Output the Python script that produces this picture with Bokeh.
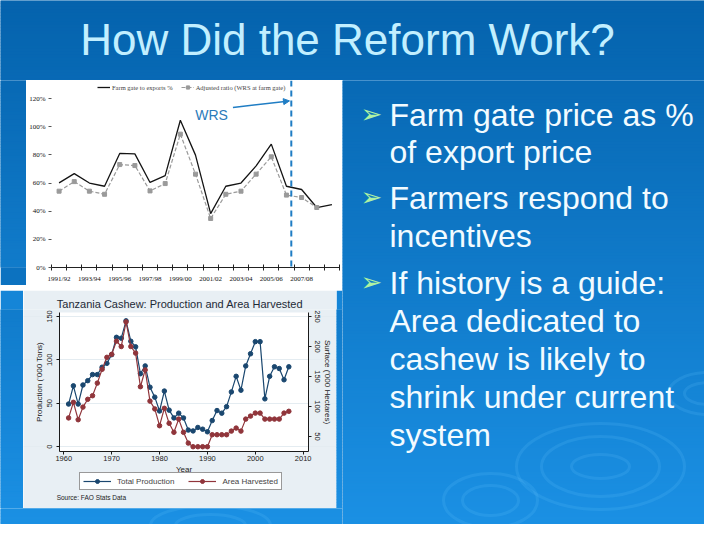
import numpy as np
from bokeh.plotting import figure
from bokeh.models import (Range1d, LinearAxis, FixedTicker, Legend, LegendItem, Title,
                          Label, Arrow, NormalHead, PrintfTickFormatter, Span, BoxAnnotation)
from bokeh.layouts import row, column
from bokeh.embed import file_html
from bokeh.resources import INLINE
from bokeh.core.properties import value

# ---------------- data ----------------
TITLE = "How Did the Reform Work?"

SEASONS = ["1991/92", "1992/93", "1993/94", "1994/95", "1995/96", "1996/97", "1997/98",
           "1998/99", "1999/00", "2000/01", "2001/02", "2002/03", "2003/04", "2004/05",
           "2005/06", "2006/07", "2007/08", "2008/09", "2009/10"]
FARM_GATE_PCT = [60.1, 66.7, 60.0, 57.7, 81.0, 80.7, 60.4, 65.3, 104.6, 79.8,
                 38.3, 57.7, 60.0, 72.2, 87.6, 57.7, 55.4, 42.6, 44.7]
ADJUSTED_PCT = [54.2, 61.0, 54.2, 52.0, 73.1, 72.4, 54.4, 59.6, 94.7, 66.3,
                34.8, 52.0, 54.2, 66.3, 78.6, 51.4, 49.7, 42.6, None]
PCT_TICKS = [0, 20, 40, 60, 80, 100, 120]
SERIES_TOP = ["Farm gate to exports %", "Adjusted ratio (WRS at farm gate)"]
WRS_TEXT = "WRS"
WRS_POSITION = 15.32

YEARS = [1961, 1962, 1963, 1964, 1965, 1966, 1967, 1968, 1969, 1970,
         1971, 1972, 1973, 1974, 1975, 1976, 1977, 1978, 1979, 1980,
         1981, 1982, 1983, 1984, 1985, 1986, 1987, 1988, 1989, 1990,
         1991, 1992, 1993, 1994, 1995, 1996, 1997, 1998, 1999, 2000,
         2001, 2002, 2003, 2004, 2005, 2006, 2007]
PRODUCTION = [49, 70, 49, 71, 76, 83, 83, 91.5, 96, 106,
              126, 125, 145, 121.5, 115, 84, 93, 68.5, 57, 41,
              64, 42, 33, 38.5, 33, 19, 18, 22, 20, 17,
              30, 41.5, 38.5, 46, 63, 81, 65, 93, 107, 121,
              121, 55, 81, 92, 90, 77, 92]
AREA = [81, 107, 78, 99, 112, 118, 139, 162, 182, 187,
        209, 200, 241, 200, 189, 133, 161, 109, 96, 68,
        97, 72, 57, 79, 57, 39, 33, 33, 33, 33,
        53, 53, 53, 53, 59, 64, 59, 79, 84, 89,
        89, 79, 79, 79, 79, 89, 92]
YEAR_TICKS = [1960, 1970, 1980, 1990, 2000, 2010]
PROD_TICKS = [0, 50, 100, 150]
AREA_TICKS = [50, 100, 150, 200, 250]
CHART2_TITLE = "Tanzania Cashew: Production and Area Harvested"
SERIES_BOTTOM = ["Total Production", "Area Harvested"]
SOURCE = "Source: FAO Stats Data"

BULLETS = [["Farm gate price as %", "of export price"],
           ["Farmers respond to", "incentives"],
           ["If history is a guide:", "Area dedicated to", "cashew is likely to",
            "shrink under current", "system"]]

# ---------------- styling helpers ----------------
TOP_RGB = np.array([5, 99, 173])
BOT_RGB = np.array([28, 146, 230])


def bg_at(y):
    t = min(max(y / 540.0, 0), 1)
    c = (TOP_RGB * (1 - t) + BOT_RGB * t).astype(int)
    return "#%02x%02x%02x" % tuple(c)


def blue_fig(x0, y0, w, h):
    f = figure(width=w, height=h, x_range=Range1d(x0, x0 + w), y_range=Range1d(y0 + h, y0),
               min_border=0, toolbar_location=None, output_backend="svg", title=None,
               x_axis_type=None, y_axis_type=None)
    f.outline_line_color = None
    f.background_fill_color = bg_at(y0 + h / 2)
    f.border_fill_color = bg_at(y0 + h / 2)
    ys = np.arange(y0 - (y0 % 3), y0 + h, 3)
    f.quad(left=x0, right=x0 + w, top=ys, bottom=ys + 3.6,
           fill_color=[bg_at(y + 1.5) for y in ys], line_color=None)
    return f


def ripples(f, cx, cy, ws, hs):
    f.ellipse(x=[cx] * len(ws), y=[cy] * len(ws), width=ws, height=hs,
              fill_color=None, line_color="#6cc4ff", line_alpha=0.16, line_width=3)


SANS = "Liberation Sans"
SERIF = "Liberation Serif"

# ---------------- title ----------------
title_fig = blue_fig(0, 0, 704, 80)
title_fig.add_layout(Label(x=347, y=39, text=TITLE, text_align="center",
                           text_baseline="alphabetic", text_font=SANS,
                           text_font_size="44px", text_color="#c2efff"))

# ---------------- top chart ----------------
ptop = figure(width=316, height=205, x_range=Range1d(-0.5, 18.5), y_range=Range1d(0, 132.8),
              min_border_left=23, min_border_right=3, min_border_top=0, min_border_bottom=18,
              toolbar_location=None, output_backend="svg", title=None)
ptop.background_fill_color = "white"
ptop.border_fill_color = "white"
ptop.outline_line_color = None
ptop.grid.visible = False

xs = np.arange(len(SEASONS))
adj = np.array([np.nan if v is None else v for v in ADJUSTED_PCT], dtype=float)
l1 = ptop.line(xs, FARM_GATE_PCT, color="#141414", line_width=1.3)
l2 = ptop.line(xs, adj, color="#9a9a9a", line_width=1.2, line_dash="4 2")
s2 = ptop.scatter(xs, adj, marker="square", size=4, color="#9a9a9a")

xa = ptop.xaxis[0]
xa.ticker = FixedTicker(ticks=list(range(0, 17, 2)), minor_ticks=[i - 0.5 for i in range(20)])
xa.major_label_overrides = {i: SEASONS[i] for i in range(0, 17, 2)}
xa.major_tick_in = 0
xa.major_tick_out = 0
xa.minor_tick_in = 3
xa.minor_tick_out = 3
xa.axis_line_color = "#222222"
xa.minor_tick_line_color = "#222222"
xa.major_label_text_font = SERIF
xa.major_label_text_font_size = "7px"
xa.major_label_text_color = "#111111"
xa.major_label_standoff = 4

ya = ptop.yaxis[0]
ya.ticker = FixedTicker(ticks=PCT_TICKS)
ya.formatter = PrintfTickFormatter(format="%d%%")
ya.axis_line_color = None
ya.major_tick_in = 0
ya.major_tick_out = 3
ya.minor_tick_out = 0
ya.major_tick_line_color = "#555555"
ya.major_label_standoff = 3
ya.major_label_text_font = SERIF
ya.major_label_text_font_size = "7px"
ya.major_label_text_color = "#111111"

leg_top = Legend(items=[LegendItem(label=SERIES_TOP[0], renderers=[l1]),
                        LegendItem(label=SERIES_TOP[1], renderers=[l2, s2])],
                 location=(46, 176), orientation="horizontal",
                 background_fill_alpha=0, border_line_alpha=0,
                 label_text_font=SERIF, label_text_font_size="6.5px",
                 glyph_width=13, glyph_height=8, label_standoff=2, spacing=8,
                 padding=0, margin=0)
ptop.add_layout(leg_top)

ptop.add_layout(Span(location=WRS_POSITION, dimension="height", line_color="#1f7dc4",
                     line_width=2, line_dash="6 4"))
ptop.add_layout(Arrow(end=NormalHead(size=6, fill_color="#1f7dc4", line_color="#1f7dc4"),
                      x_start=11.47, y_start=113.6, x_end=15.2, y_end=118.3,
                      line_color="#1f7dc4", line_width=1.5))
ptop.add_layout(Label(x=8.98, y=108.2, text=WRS_TEXT, text_baseline="middle",
                      text_font=SANS, text_font_size="14px", text_color="#2a7bba"))

# ---------------- bottom chart ----------------
NAVY = "#1a476f"
MAROON = "#90353b"
PROD_LO, PROD_HI = -5.4, 154.6
AREA_LO, AREA_HI = 25.5, 256.7
YEAR_LO, YEAR_HI = 1959.16, 2011.17
pb = figure(width=313, height=218, x_range=Range1d(1951.58, 2016.96),
            y_range=Range1d(-71.5, 158.1),
            min_border_left=0, min_border_right=0, min_border_top=19, min_border_bottom=0,
            toolbar_location=None, output_backend="svg", title=None)
pb.extra_y_ranges = {"area": Range1d(-70.0, 261.7)}
pb.background_fill_color = "#e8eff4"
pb.border_fill_color = "#e8eff4"
pb.outline_line_color = None
pb.add_layout(BoxAnnotation(left=YEAR_LO, right=YEAR_HI, bottom=PROD_LO, top=PROD_HI,
                            fill_color="white", fill_alpha=1, line_color=None, level="image"))
pb.xgrid.visible = False
pb.ygrid.ticker = FixedTicker(ticks=PROD_TICKS)
pb.ygrid.grid_line_color = "#e4ecf1"

lp = pb.line(YEARS, PRODUCTION, color=NAVY, line_width=1.2)
sp = pb.scatter(YEARS, PRODUCTION, size=4.5, color=NAVY)
la = pb.line(YEARS, AREA, y_range_name="area", color=MAROON, line_width=1.2)
sa = pb.scatter(YEARS, AREA, y_range_name="area", size=4.5, color=MAROON)

pb.add_layout(Title(text=CHART2_TITLE, align="center", text_font=SANS, text_font_size="11px",
                    text_font_style="normal", text_color="#1e2a36", standoff=0), "above")

bx = pb.xaxis[0]
bx.ticker = FixedTicker(ticks=YEAR_TICKS)
bx.fixed_location = PROD_LO
bx.bounds = (YEAR_LO, YEAR_HI)
bx.axis_label = "Year"
bx.axis_label_standoff = 0
bx.major_label_standoff = 2

ly = pb.yaxis[0]
ly.ticker = FixedTicker(ticks=PROD_TICKS)
ly.fixed_location = YEAR_LO
ly.bounds = (PROD_LO, PROD_HI)
ly.axis_label = "Production ('000 Tons)"
ly.major_label_orientation = "vertical"
ly.major_label_standoff = 5
ly.axis_label_standoff = 0

ry = LinearAxis(y_range_name="area", ticker=FixedTicker(ticks=AREA_TICKS),
                axis_label="Surface ('000 Hectares)", bounds=(AREA_LO, AREA_HI),
                fixed_location=YEAR_HI)
ry.major_label_orientation = "vertical"
ry.major_label_standoff = 3
ry.axis_label_standoff = 0
pb.add_layout(ry, "right")

for ax in [bx, ly, ry]:
    ax.axis_line_color = "#1a1a1a"
    ax.major_tick_line_color = "#1a1a1a"
    ax.major_tick_in = 0
    ax.major_tick_out = 3
    ax.minor_tick_out = 0
    ax.minor_tick_in = 0
    ax.major_label_text_font = SANS
    ax.major_label_text_font_size = "7.5px"
    ax.major_label_text_color = "#222222"
    ax.axis_label_text_font = SANS
    ax.axis_label_text_font_size = "8px"
    ax.axis_label_text_font_style = "normal"
    ax.axis_label_text_color = "#222222"

leg_b = Legend(items=[LegendItem(label=SERIES_BOTTOM[0], renderers=[lp, sp]),
                      LegendItem(label=SERIES_BOTTOM[1], renderers=[la, sa])],
               orientation="horizontal", location=(56, 18),
               border_line_color="#333333", border_line_width=1,
               background_fill_color="white",
               label_text_font=SANS, label_text_font_size="8px",
               glyph_width=28, glyph_height=10, label_standoff=6, spacing=14,
               padding=3, margin=0)
pb.add_layout(leg_b)
pb.add_layout(Label(x=1958.5, y=-58.5, text=SOURCE, text_baseline="middle",
                    text_font=SANS, text_font_size="6.5px", text_color="#222222"))

# ---------------- bullet text ----------------
tf = blue_fig(342, 80, 362, 444)
ripples(tf, 600, 466, [168, 118, 58], [86, 60, 24])
ripples(tf, 708, 393, [80, 48], [42, 22])
ripples(tf, 490, 500, [94, 56], [54, 30])

LINE_Y = [114, 151, 197, 235, 282, 320, 358, 396, 434]
lines = [t for group in BULLETS for t in group]
tf.text(x=[389] * len(lines), y=LINE_Y, text=lines, text_font=value(SANS),
        text_font_size="32px", text_color="#f2fbff", text_baseline="alphabetic")
first_idx = [0, 2, 4]
tf.text(x=[360] * 3, y=[LINE_Y[i] - 1 for i in first_idx], text=["\u27a2"] * 3,
        text_font=value("DejaVu Sans"), text_font_size="26px", text_color="#aef2a2",
        text_baseline="alphabetic")

# ---------------- fillers & layout ----------------
fa = blue_fig(0, 80, 26, 205)
fb = blue_fig(0, 285, 342, 5)
fc = blue_fig(0, 290, 23, 218)
fd = blue_fig(336, 290, 6, 218)
fe = blue_fig(0, 508, 342, 16)
ripples(fe, 210, 525, [120, 70], [40, 22])

left_col = column(row(fa, ptop, spacing=0), fb, row(fc, pb, fd, spacing=0), fe, spacing=0)
layout = column(title_fig, row(left_col, tf, spacing=0), spacing=0)

open("out.html", "w").write(file_html(layout, INLINE))
